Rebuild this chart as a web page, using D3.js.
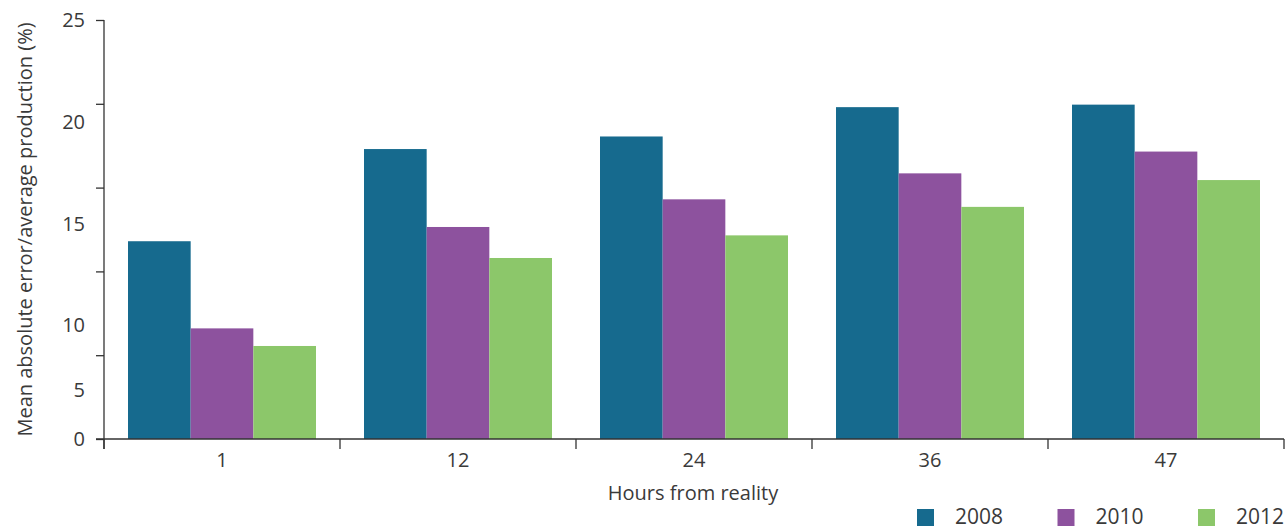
<!DOCTYPE html>
<html>
  <head>
    <meta charset="utf-8">
    <title>Forecast error</title>
    <script src="https://d3js.org/d3.v7.min.js"></script>
    <style>
      body { margin: 0; background: #fff; }
      text { font-family: "Open Sans", sans-serif; fill: #3a3a3a; }
    </style>
  </head>
  <body>
    <script>
        var width = 1287;
        var height = 530;

        var hours = ["1", "12", "24", "36", "47"];
        var years = ["2008", "2010", "2012"];
        var v2008 = [11.8, 17.3, 18.05, 19.8, 19.95];
        var v2010 = [6.6, 12.65, 14.3, 15.85, 17.15];
        var v2012 = [5.55, 10.8, 12.15, 13.85, 15.45];
        var yTicks = [0, 5, 10, 15, 20, 25];
        // the printed labels sit off their ticks in the original
        var yLabelAt = [0, 2.9, 6.8, 12.8, 18.9, 25];
        var colors = ["#166a8e", "#8d529e", "#8cc76a"];

        var series = [v2008, v2010, v2012];
        var margin = {top: 20, left: 104, right: 3, bottom: 91};

        var svg = d3.select("body").append("svg")
            .attr("width", width)
            .attr("height", height)
        ;

        var yScale = d3.scaleLinear()
            .domain([0, 25])
            .range([height - margin.bottom, margin.top])
        ;
        var x0 = d3.scaleBand()
            .domain(hours)
            .range([margin.left, width - margin.right])
            .padding(0)
        ;
        var x1 = d3.scaleBand()
            .domain(years)
            .range([24, x0.bandwidth() - 24])
            .padding(0)
        ;

        // bars
        var groups = svg.selectAll("g.grp")
            .data(hours)
            .enter()
            .append("g")
            .classed("grp", true)
            .attr("transform", (d) => "translate(" + x0(d) + ",0)")
        ;
        groups.selectAll("rect")
            .data((d, i) => years.map((y, j) => ({year: y, value: series[j][i], k: j})))
            .enter()
            .append("rect")
            .attr("x", (d) => x1(d.year))
            .attr("width", x1.bandwidth())
            .attr("y", (d) => yScale(d.value))
            .attr("height", (d) => yScale(0) - yScale(d.value))
            .attr("fill", (d) => colors[d.k])
        ;

        // y axis, ticks only
        var axisY = d3.axisLeft(yScale)
            .tickValues(yTicks)
            .tickSize(8)
            .tickFormat("")
            .tickSizeOuter(0)
        ;
        var gy = svg.append("g")
            .attr("transform", "translate(" + margin.left + ",0)")
            .call(axisY)
        ;
        gy.select(".domain").remove();
        gy.selectAll("line").attr("stroke", "#333").attr("stroke-width", 1.3);
        svg.append("line")
            .attr("x1", margin.left).attr("x2", margin.left)
            .attr("y1", yScale(25)).attr("y2", yScale(0) + 10)
            .attr("stroke", "#333").attr("stroke-width", 1.3)
        ;
        svg.selectAll("text.ylab")
            .data(yTicks)
            .enter()
            .append("text")
            .classed("ylab", true)
            .attr("x", margin.left - 19)
            .attr("y", (d, i) => yScale(yLabelAt[i]))
            .attr("dy", "0.35em")
            .attr("text-anchor", "end")
            .style("font-size", "20px")
            .text((d) => d)
        ;

        // x axis
        svg.append("line")
            .attr("x1", margin.left - 8).attr("x2", width - margin.right)
            .attr("y1", yScale(0)).attr("y2", yScale(0))
            .attr("stroke", "#333").attr("stroke-width", 1.3)
        ;
        var edges = hours.map((d) => x0(d)).concat([x0(hours[hours.length - 1]) + x0.bandwidth()]);
        svg.selectAll("line.xt")
            .data(edges)
            .enter()
            .append("line")
            .classed("xt", true)
            .attr("x1", (d) => d).attr("x2", (d) => d)
            .attr("y1", yScale(0)).attr("y2", yScale(0) + 10)
            .attr("stroke", "#333").attr("stroke-width", 1.3)
        ;
        var axisX = d3.axisBottom(x0).tickSize(0).tickPadding(14);
        var gx = svg.append("g")
            .attr("transform", "translate(0," + yScale(0) + ")")
            .call(axisX)
        ;
        gx.select(".domain").remove();
        gx.selectAll("text")
            .style("font-family", "'Open Sans', sans-serif")
            .style("font-size", "20px")
            .attr("fill", "#3a3a3a")
        ;

        svg.append("text")
            .attr("x", 693)
            .attr("y", 500)
            .attr("text-anchor", "middle")
            .style("font-size", "20px")
            .text("Hours from reality")
        ;
        svg.append("text")
            .attr("transform", "translate(32," + ((yScale(0) + yScale(25)) / 2) + ") rotate(-90)")
            .attr("text-anchor", "middle")
            .style("font-size", "20px")
            .text("Mean absolute error/average production (%)")
        ;

        // legend
        var legend = svg.selectAll("g.leg")
            .data(years)
            .enter()
            .append("g")
            .classed("leg", true)
            .attr("transform", (d, i) => "translate(" + (917 + i * 140.5) + ",509)")
        ;
        legend.append("rect")
            .attr("width", 17).attr("height", 17)
            .attr("fill", (d, i) => colors[i])
        ;
        legend.append("text")
            .attr("x", 38)
            .attr("y", 15)
            .style("font-size", "21px")
            .text((d) => d)
        ;
    </script>
  </body>
</html>
